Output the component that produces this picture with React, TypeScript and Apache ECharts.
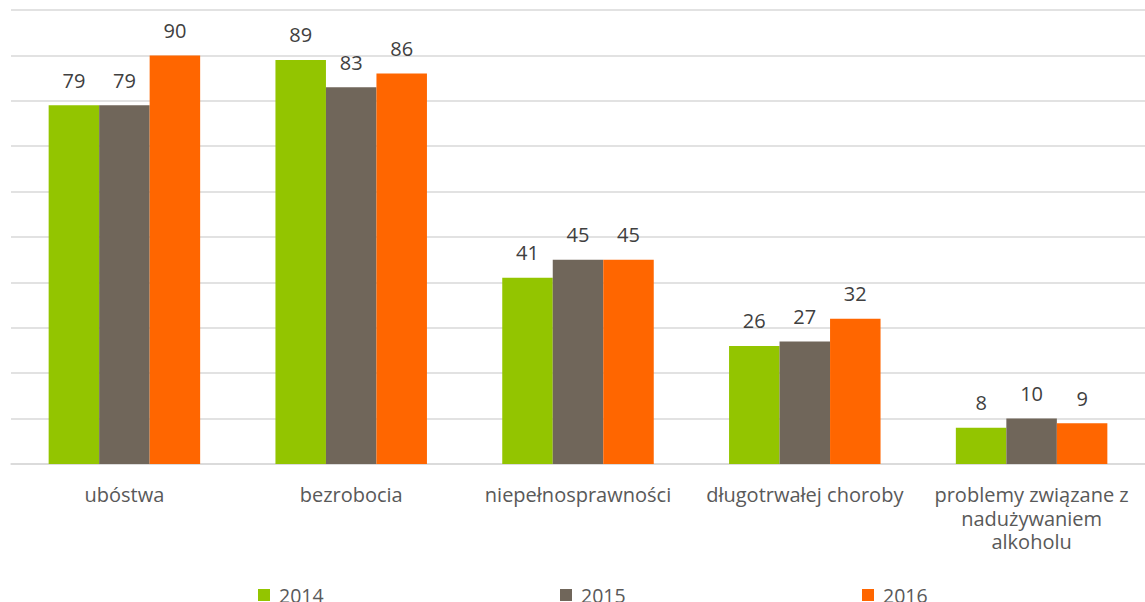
import React, { useEffect, useRef } from "react";
import * as echarts from "echarts";

const categories = [
  "ubóstwa",
  "bezrobocia",
  "niepełnosprawności",
  "długotrwałej choroby",
  "problemy związane z\nnadużywaniem\nalkoholu",
];
const years = ["2014", "2015", "2016"];
const values2014 = [79, 89, 41, 26, 8];
const values2015 = [79, 83, 45, 27, 10];
const values2016 = [90, 86, 45, 32, 9];
const colors = ["#93C500", "#70665A", "#FF6600"];

const FONT = "Open Sans";

export default function App() {
  const ref = useRef<HTMLDivElement>(null);
  useEffect(() => {
    if (!ref.current) return;
    const chart = echarts.init(ref.current, undefined, { renderer: "svg" });
    const seriesData = [values2014, values2015, values2016];
    const legendLefts = [258, 560, 862];
    chart.setOption({
      animation: false,
      grid: { left: 11, right: -6, top: 10, bottom: 138, containLabel: false },
      xAxis: {
        type: "category",
        data: categories,
        axisLine: { show: true, lineStyle: { color: "#d9d9d9", width: 1.5 } },
        axisTick: { show: false },
        axisLabel: {
          color: "#595959",
          fontFamily: FONT,
          fontSize: 20,
          margin: 19,
          lineHeight: 23.5,
          interval: 0,
        },
      },
      yAxis: {
        type: "value",
        min: 0,
        max: 100,
        interval: 10,
        axisLabel: { show: false },
        axisLine: { show: false },
        axisTick: { show: false },
        splitLine: { lineStyle: { color: "#d9d9d9", width: 1.5 } },
      },
      legend: years.map((y, i) => ({
        data: [y],
        left: legendLefts[i],
        top: 585,
        padding: 0,
        itemWidth: 12,
        itemHeight: 12,
        icon: "rect",
        itemGap: 0,
        textStyle: {
          color: "#595959",
          fontFamily: FONT,
          fontSize: 19.5,
          lineHeight: 18,
          padding: [0, 0, 0, 4],
        },
      })),
      series: years.map((y, i) => ({
        name: y,
        type: "bar",
        data: seriesData[i],
        barWidth: 50.5,
        barGap: "0%",
        itemStyle: { color: colors[i] },
        label: {
          show: true,
          position: "top",
          distance: 15,
          color: "#404040",
          fontFamily: FONT,
          fontSize: 20,
        },
      })),
    });
    return () => chart.dispose();
  }, []);
  return (
    <div
      ref={ref}
      style={{ position: "absolute", left: 0, top: 0, width: 1145, height: 602 }}
    />
  );
}
